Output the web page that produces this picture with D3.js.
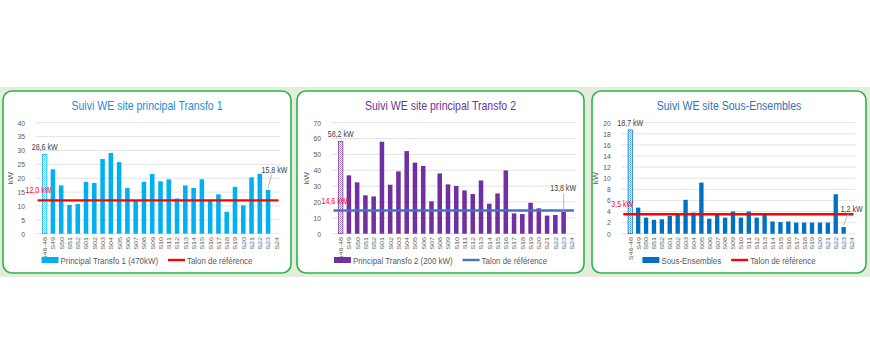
<!DOCTYPE html>
<html>
<head>
<meta charset="utf-8">
<script src="https://cdnjs.cloudflare.com/ajax/libs/d3/7.8.5/d3.min.js"></script>
<style>
  body { margin: 0; background: #fff; }
  svg { display: block; font-family: "Liberation Sans", Arial, sans-serif; }
</style>
</head>
<body>
<script>
(function(){

    /////////// DATA //////////
    const weeks = ["S46-48","S49","S50","S51","S52","S01","S02","S03","S04","S05","S06","S07","S08","S09",
                   "S10","S11","S12","S13","S14","S15","S16","S17","S18","S19","S20","S21","S22","S23","S24"];
    const transfo1 = [28.6,23.2,17.4,10.4,10.7,18.7,18.3,26.9,29.1,25.8,16.5,12.0,18.7,21.5,
                      18.9,19.6,12.7,17.4,16.5,19.6,12.0,14.2,7.9,16.9,10.2,20.3,21.6,15.8,null];
    const transfo2 = [58.2,36.8,32.4,24.2,23.5,58.0,30.9,39.3,52.1,44.8,42.7,20.4,38.0,31.1,
                      30.1,27.3,25.0,33.6,18.9,25.4,39.9,12.8,12.4,19.5,16.0,11.4,11.8,13.8,null];
    const sousEnsembles = [18.7,4.7,2.9,2.5,2.6,3.2,3.7,6.1,3.8,9.2,2.7,3.5,2.9,4.0,
                           2.9,4.0,2.9,3.5,2.2,2.1,2.2,2.0,2.0,2.0,2.0,2.0,7.1,1.2,null];
    const talons = [12.0, 14.6, 3.5];
    const titles = ["Suivi WE site principal Transfo 1", "Suivi WE site principal Transfo 2", "Suivi WE site Sous-Ensembles"];
    const seriesNames = ["Principal Transfo 1 (470kW)", "Principal Transfo 2 (200 kW)", "Sous-Ensembles"];
    const talonName = "Talon de référence";
    const yMax = [40, 70, 20];
    const yStep = [5, 10, 2];

    /////////// LAYOUT //////////
    const width = 870, height = 350;
    const squeeze = 0.85; // reference text is horizontally narrow
    const panels = [
        {box: [3, 91, 288, 182], plot: [40.5, 280.5], title: "#1f8dd6", bar: "#00b0f0", line: "#ff0000",
         last: {dx: -6.5, dy: -17, lx1: 3.5, ly1: -15, lx2: 0, ly2: -2}},
        {box: [297, 91, 287, 182], plot: [336.5, 576], title: "#7030a0", bar: "#7030a0", line: "#4472c4",
         last: {dx: -13.4, dy: -20.5, lx1: 0, ly1: -18.5, lx2: 0, ly2: 0}},
        {box: [592, 91, 274, 182], plot: [626.3, 855.5], title: "#2e75b6", bar: "#0070c0", line: "#ff0000",
         last: {dx: -3, dy: -15, lx1: 4.7, ly1: -13.7, lx2: 0, ly2: -2}}
    ];
    const plotTop = 122.7, plotBottom = 233.7;
    const values = [transfo1, transfo2, sousEnsembles];

    const svg = d3.select("body").append("svg")
        .attr("width", width).attr("height", height);
    const defs = svg.append("defs");

    // light green band behind the three cards
    svg.append("rect").attr("x", 0).attr("y", 87).attr("width", width).attr("height", 190)
        .attr("fill", "#e4ecdb");

    // narrow text helper
    function addText(g, x, y, txt, size, color, anchor, rot) {
        return g.append("text")
            .attr("transform", `translate(${x},${y}) scale(${squeeze},1)` + (rot ? ` rotate(${rot})` : ""))
            .attr("text-anchor", anchor || "start")
            .attr("font-size", size)
            .attr("fill", color)
            .text(txt);
    }

    panels.forEach((p, i) => drawPanel(p, i));

    function drawPanel(p, i) {
        const g = svg.append("g");
        const data = values[i];

        // card
        g.append("rect")
            .attr("x", p.box[0]).attr("y", p.box[1]).attr("width", p.box[2]).attr("height", p.box[3])
            .attr("rx", 9).attr("fill", "#fff").attr("stroke", "#2eb24e").attr("stroke-width", 1.6);

        const cx = p.box[0] + p.box[2] / 2;
        addText(g, cx, 110, titles[i], 12.4, p.title, "middle");

        const x = d3.scaleBand().domain(weeks).range(p.plot).paddingInner(0.45).paddingOuter(0.225);
        const y = d3.scaleLinear().domain([0, yMax[i]]).range([plotBottom, plotTop]);
        const ticks = d3.range(0, yMax[i] + 0.001, yStep[i]);

        // gridlines + y labels
        g.selectAll(".grid").data(ticks).enter().append("line")
            .attr("x1", p.plot[0] - 5).attr("x2", p.plot[1])
            .attr("y1", d => y(d)).attr("y2", d => y(d))
            .attr("stroke", "#dcdcdc").attr("stroke-width", 0.8);
        ticks.forEach(t => addText(g, p.plot[0] - 15.5, y(t) + 2.8, t, 8, "#595959", "end"));
        addText(g, p.plot[0] - 28, (plotTop + plotBottom) / 2, "kW", 8.4, "#595959", "middle", -90);

        // hatched pattern for first bar
        const pid = "hatch" + i;
        const pat = defs.append("pattern").attr("id", pid).attr("patternUnits", "userSpaceOnUse")
            .attr("width", 2).attr("height", 2);
        pat.append("rect").attr("width", 2).attr("height", 2).attr("fill", "#fff");
        pat.append("rect").attr("width", 1).attr("height", 1).attr("fill", p.bar).attr("opacity", 0.7);
        pat.append("rect").attr("x", 1).attr("y", 1).attr("width", 1).attr("height", 1).attr("fill", p.bar).attr("opacity", 0.45);

        const bars = weeks.map((w, k) => ({w: w, v: data[k], k: k})).filter(d => d.v != null);
        g.selectAll(".bar").data(bars).enter().append("rect")
            .attr("x", d => x(d.w)).attr("width", x.bandwidth())
            .attr("y", d => y(d.v)).attr("height", d => plotBottom - y(d.v))
            .attr("fill", d => d.k === 0 ? `url(#${pid})` : p.bar)
            .attr("stroke", d => d.k === 0 ? p.bar : "none").attr("stroke-width", 0.7);

        // x labels rotated
        weeks.forEach(w => addText(g, x(w) + x.bandwidth() / 2 + 2.4, 237, w, 7.2, "#595959", "end", -90));

        // reference line
        const ty = y(talons[i]);
        g.append("line").attr("x1", p.plot[0] - 3).attr("x2", p.plot[1] - 2)
            .attr("y1", ty).attr("y2", ty).attr("stroke", p.line).attr("stroke-width", 2.4);
        addText(g, p.plot[0] - 15, ty - 7, talons[i].toFixed(1).replace(".", ",") + " kW", 8.3, "#ff0000", "start");

        // data labels first and last bar
        const fmt = v => v.toFixed(1).replace(".", ",") + " kW";
        const first = bars[0];
        addText(g, x(first.w) + x.bandwidth() / 2, y(first.v) - 4.4, fmt(first.v), 8.3, "#404040", "middle");
        const last = bars[bars.length - 1];
        const lc = x(last.w) + x.bandwidth() / 2, lt = y(last.v);
        g.append("line").attr("x1", lc + p.last.lx1).attr("y1", lt + p.last.ly1)
            .attr("x2", lc + p.last.lx2).attr("y2", lt + p.last.ly2)
            .attr("stroke", "#a6a6a6").attr("stroke-width", 0.8);
        addText(g, lc + p.last.dx, lt + p.last.dy, fmt(last.v), 8.3, "#404040", "start");

        // legend, centered in the card
        const lg = g.append("g");
        const t1 = addText(lg, 19, 263.5, seriesNames[i], 9.3, "#595959", "start");
        const w1 = t1.node().getComputedTextLength() * squeeze;
        const off2 = 19 + w1 + 10;
        const t2 = addText(lg, off2 + 19, 263.5, talonName, 9.3, "#595959", "start");
        const w2 = t2.node().getComputedTextLength() * squeeze;
        lg.append("rect").attr("x", 0).attr("y", 257).attr("width", 17).attr("height", 6).attr("fill", p.bar);
        lg.append("line").attr("x1", off2).attr("x2", off2 + 17).attr("y1", 260).attr("y2", 260)
            .attr("stroke", p.line).attr("stroke-width", 2.4);
        const total = off2 + 19 + w2;
        lg.attr("transform", `translate(${cx - total / 2},0)`);
    }
})();
</script>
</body>
</html>
